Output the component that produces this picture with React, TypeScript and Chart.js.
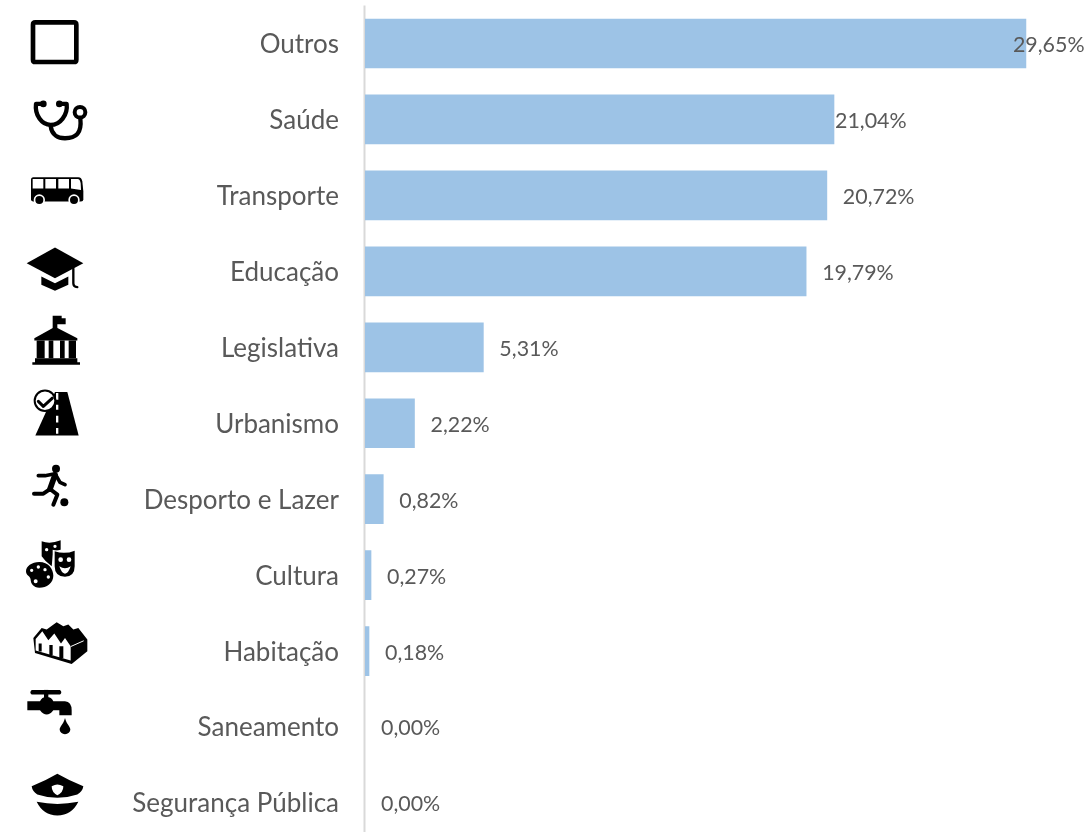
import React, { useEffect, useRef } from "react";
import { Chart, registerables } from "chart.js";

Chart.register(...registerables);

const categories = ["Outros", "Saúde", "Transporte", "Educação", "Legislativa", "Urbanismo", "Desporto e Lazer", "Cultura", "Habitação", "Saneamento", "Segurança Pública"];
const shares = [29.65, 21.04, 20.72, 19.79, 5.31, 2.22, 0.82, 0.27, 0.18, 0, 0];
const valueLabels = ["29,65%", "21,04%", "20,72%", "19,79%", "5,31%", "2,22%", "0,82%", "0,27%", "0,18%", "0,00%", "0,00%"];

const FONT = "Lato, 'Open Sans', sans-serif";
const BLACK = "#000";
const WHITE = "#fff";

type Part = { d: string; fill?: string; stroke?: string; w?: number };
type Icon = { cy: number; parts: Part[] };
const circle = (x: number, y: number, r: number) => `M${x - r} ${y}A${r} ${r} 0 1 0 ${x + r} ${y}A${r} ${r} 0 1 0 ${x - r} ${y}Z`;

// Icon outlines in a 3x local drawing space; cy is the local y of the row centre.
const icons: Icon[] = [
  { cy: 130.5, parts: [{ d: "M106 67H222Q229 67 229 74V179Q229 186 222 186H106Q99 186 99 179V74Q99 67 106 67Z", stroke: BLACK, w: 14 }] },
  { cy: 358.5, parts: [
    { d: "M130 312H108C104 345 125 375 152 375C180 375 204 345 200 312H178", stroke: BLACK, w: 13 },
    { d: "M152 378C155 405 175 415 195 415C228 415 246 400 241 356", stroke: BLACK, w: 13 },
    { d: circle(240, 337, 16), stroke: BLACK, w: 12 },
    { d: circle(130, 312, 10) + circle(178, 312, 10), fill: BLACK },
  ] },
  { cy: 586.5, parts: [
    { d: "M100 532H235Q245 532 247 545L250 575V598Q250 605 243 605H100Q93 605 93 598V540Q93 532 100 532Z", fill: BLACK },
    { d: "M98 537H130V566H98ZM136 537H168V566H136ZM175 537H207V566H175ZM213 537H233Q240 537 242 550L243 570L213 566Z", fill: WHITE },
    { d: circle(118, 600, 17) + circle(222, 600, 17), fill: WHITE },
    { d: circle(118, 600, 12) + circle(222, 600, 12), fill: BLACK },
  ] },
  { cy: 124.5, parts: [
    { d: "M165 53L250 100L165 145L80 100Z", fill: BLACK },
    { d: "M124 140L165 160L205 140V165L165 183L124 165Z", fill: BLACK },
    { d: "M220 116V160Q220 170 232 172", stroke: BLACK, w: 7 },
  ] },
  { cy: 352.5, parts: [
    { d: "M158 258H185V265H197V283H172V295H158Z", fill: BLACK },
    { d: "M165 291L232 325V332H103V325Z", fill: BLACK },
    { d: "M110 332H134V385H110ZM146 332H160V385H146ZM180 332H194V385H180ZM206 332H228V385H206Z", fill: BLACK },
    { d: "M105 385H232V397H240V405H97V397H105Z", fill: BLACK },
  ] },
  { cy: 580.5, parts: [
    { d: "M165 487H202L236 617H106Z", fill: BLACK },
    { d: "M168 490H175V510H168ZM168 525H175V540H168ZM168 558H175V578H168ZM168 595H175V612H168Z", fill: WHITE },
    { d: circle(135, 513, 31), fill: WHITE, stroke: BLACK, w: 6 },
    { d: "M115 515L130 530L157 505", stroke: BLACK, w: 9 },
  ] },
  { cy: 148.5, parts: [
    { d: circle(168, 57, 12), fill: BLACK },
    { d: "M115 78H135L165 72L180 98L195 105", stroke: BLACK, w: 11 },
    { d: "M165 76L150 118", stroke: BLACK, w: 17 },
    { d: "M150 118L130 132H102", stroke: BLACK, w: 12 },
    { d: "M150 118L172 135L160 165", stroke: BLACK, w: 12 },
    { d: circle(193, 158, 12), fill: BLACK },
  ] },
  { cy: 376.5, parts: [
    { d: "M125 275Q150 285 182 272V300L160 305L155 350Q135 335 125 320Z", fill: BLACK },
    { d: circle(140, 300, 5) + circle(165, 290, 5), fill: WHITE },
    { d: "M158 300Q195 310 228 298V350Q228 386 195 386Q158 386 158 350Z", fill: WHITE },
    { d: "M164 305Q195 315 224 303V350Q224 381 195 381Q164 381 164 350Z", fill: BLACK },
    { d: circle(182, 330, 7) + circle(207, 330, 7), fill: WHITE },
    { d: "M178 350Q195 362 212 350Q205 372 195 372Q185 372 178 350Z", fill: WHITE },
    { d: "M118 337C145 337 160 358 160 378C160 400 140 414 118 414C100 414 92 400 92 390C92 380 78 378 78 365C78 350 95 337 118 337Z", fill: BLACK },
    { d: circle(95, 362, 5) + circle(115, 352, 5) + circle(135, 360, 5) + circle(145, 382, 5) + circle(107, 395, 6), fill: WHITE },
  ] },
  { cy: 604.5, parts: [
    { d: "M100 565L125 535L140 540L170 518L190 530L205 525L220 540L235 535L262 570V605L215 643L105 610Z", fill: BLACK },
    { d: "M107 568L127 545L145 572L163 552L183 582L195 565L212 590V633L107 603Z", fill: WHITE },
    { d: "M116 582H125V606H116ZM148 586H158V616H148ZM178 590H190V626H178Z", fill: BLACK },
    { d: "M214 590L250 574", stroke: WHITE, w: 3 },
  ] },
  { cy: 172.5, parts: [
    { d: "M95 61H180Q188 68 180 75H95Q87 68 95 61Z", fill: BLACK },
    { d: "M132 61H145V90H132Z", fill: BLACK },
    { d: "M82 95H120Q125 82 140 82Q155 82 160 95H195Q215 97 215 122V137H178V122H160Q150 135 140 135Q130 135 120 122H82Z", fill: BLACK },
    { d: "M195 145C200 165 211 170 211 180A16 14 0 0 1 179 180C179 170 190 165 195 145Z", fill: BLACK },
  ] },
  { cy: 400.5, parts: [
    { d: "M172 313Q210 335 250 350Q248 365 232 375Q172 395 112 375Q97 365 95 350Q135 335 172 313Z", fill: BLACK },
    { d: "M172 345Q180 345 190 350Q190 368 172 377Q155 368 155 350Q165 345 172 345Z", fill: WHITE },
    { d: "M110 397Q172 410 235 397Q215 438 172 438Q130 438 110 397Z", fill: BLACK },
  ] },
];

const iconPlugin = {
  id: "rowIcons",
  afterDraw(chart: any) {
    const { ctx, scales } = chart;
    icons.forEach((icon, i) => {
      const y = scales.y.getPixelForValue(i);
      ctx.save();
      ctx.translate(0, y);
      ctx.scale(1 / 3, 1 / 3);
      ctx.translate(0, -icon.cy);
      ctx.lineCap = "round";
      ctx.lineJoin = "round";
      icon.parts.forEach((p) => {
        const path = new Path2D(p.d);
        if (p.fill) { ctx.fillStyle = p.fill; ctx.fill(path); }
        if (p.stroke) { ctx.strokeStyle = p.stroke; ctx.lineWidth = p.w || 6; ctx.stroke(path); }
      });
      ctx.restore();
    });
  },
};

const axisLinePlugin = {
  id: "axisLine",
  beforeDatasetsDraw(chart: any) {
    const { ctx, chartArea } = chart;
    ctx.save();
    ctx.fillStyle = "#D9D9D9";
    ctx.fillRect(chartArea.left - 1.5, chartArea.top, 2, chartArea.bottom - chartArea.top);
    ctx.restore();
  },
};

const valueLabelPlugin = {
  id: "valueLabels",
  afterDatasetsDraw(chart: any) {
    const { ctx } = chart;
    const bars = chart.getDatasetMeta(0).data;
    ctx.save();
    ctx.font = `21.4px ${FONT}`;
    ctx.fillStyle = "#595959";
    ctx.textBaseline = "middle";
    ctx.textAlign = "left";
    bars.forEach((bar: any, i: number) => {
      // Labels of the two longest bars sit closer to the bar end, as in the source.
      const gap = i === 0 ? -13 : i === 1 ? 1 : 16;
      ctx.fillText(valueLabels[i], bar.x + gap, bar.y + 1.5);
    });
    ctx.restore();
  },
};

export default function App() {
  const ref = useRef<HTMLCanvasElement>(null);
  useEffect(() => {
    const chart = new Chart(ref.current!, {
      type: "bar",
      data: {
        labels: categories,
        datasets: [{
          data: shares,
          backgroundColor: (c: any) => (c.raw > 0 ? "#9DC3E6" : "transparent"),
          borderWidth: 0,
          barThickness: 49,
        }],
      },
      options: {
        indexAxis: "y",
        animation: false,
        responsive: false,
        layout: { padding: { top: 5.5, bottom: 0, left: 0, right: 0 } },
        plugins: { legend: { display: false }, tooltip: { enabled: false } },
        scales: {
          x: { display: false, min: 0, max: 32.39 },
          y: {
            afterFit: (s: any) => { s.width = 365; s.paddingTop = 0; s.paddingBottom = 0; },
            grid: { display: false, drawTicks: false },
            border: { display: false },
            ticks: { color: "#595959", padding: 26, labelOffset: 1, autoSkip: false, font: { family: FONT, size: 26 } },
          },
        },
      },
      plugins: [axisLinePlugin, valueLabelPlugin, iconPlugin],
    });
    return () => chart.destroy();
  }, []);
  return (
    <div style={{ position: "fixed", left: 0, top: 0, width: 1087, height: 832, overflow: "hidden", background: "#fff" }}>
      <canvas ref={ref} width={1087} height={841} style={{ display: "block" }} />
    </div>
  );
}
